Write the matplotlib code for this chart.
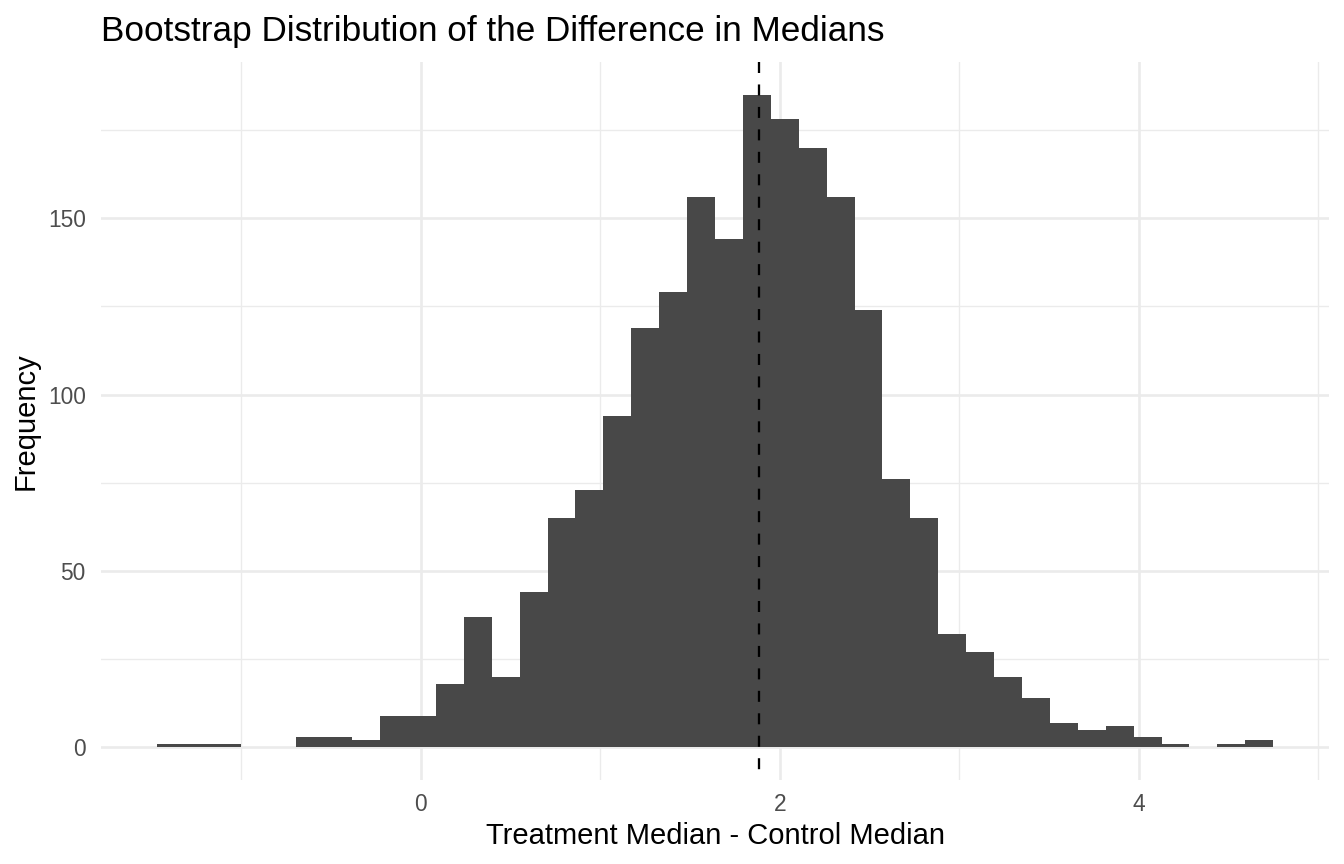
import numpy as np
import matplotlib
matplotlib.use("Agg")
import matplotlib.pyplot as plt
from matplotlib.ticker import FixedLocator

# ---- data ----
counts = [1, 1, 1, 0, 0, 3, 3, 2, 9, 9, 18, 37, 20, 44, 65, 73, 94, 119, 129, 156,
          144, 185, 178, 170, 156, 124, 76, 65, 32, 27, 20, 14, 7, 5, 6, 3, 1, 0, 1, 2]
bin_start = -1.472
bin_width = 0.15556
observed_diff = 1.886
x_major = [0, 2, 4]
x_minor = [-1, 1, 3, 5]
y_major = [0, 50, 100, 150]
y_minor = [25, 75, 125, 175]
title = "Bootstrap Distribution of the Difference in Medians"
x_label = "Treatment Median - Control Median"
y_label = "Frequency"

plt.rcParams['font.family'] = ['Liberation Sans', 'DejaVu Sans']

W, H = 1344, 864
fig = plt.figure(figsize=(W / 100, H / 100), dpi=100)
fig.patch.set_facecolor('white')
ax = fig.add_axes([101 / W, 1 - 780 / H, (1329 - 101) / W, (780 - 62) / H])

edges = bin_start + bin_width * np.arange(len(counts) + 1)
ax.bar(edges[:-1], counts, width=bin_width, align='edge', color='#484848',
       linewidth=0, zorder=2)

ax.vlines(observed_diff, 1, 0, transform=ax.get_xaxis_transform(),
          colors='black', linewidth=1.65, linestyles=(0, (4.8, 5.0)), zorder=3)

# ggplot-like 5% expansion
xr = edges[-1] - edges[0]
ax.set_xlim(edges[0] - 0.05 * xr, edges[-1] + 0.05 * xr)
ymax = max(counts)
ax.set_ylim(-0.05 * ymax, ymax * 1.05)

ax.xaxis.set_major_locator(FixedLocator(x_major))
ax.xaxis.set_minor_locator(FixedLocator(x_minor))
ax.yaxis.set_major_locator(FixedLocator(y_major))
ax.yaxis.set_minor_locator(FixedLocator(y_minor))

ax.grid(which='major', color='#EBEBEB', linewidth=1.9, zorder=0)
ax.grid(which='minor', color='#EBEBEB', linewidth=0.95, zorder=0)
ax.set_axisbelow(True)
for s in ax.spines.values():
    s.set_visible(False)

ax.tick_params(which='both', length=0)
ax.tick_params(axis='x', which='major', labelsize=16.4, labelcolor='#4D4D4D', pad=9.4)
ax.tick_params(axis='y', which='major', labelsize=16.4, labelcolor='#4D4D4D', pad=11)

ax.set_title(title, loc='left', fontsize=25.3, pad=15, color='black')
ax.set_xlabel(x_label, fontsize=21, va='baseline', color='black')
ax.xaxis.set_label_coords(0.5, (780 - 844) / (780 - 62))
ax.set_ylabel(y_label, fontsize=21, va='center', ha='center', color='black')
ax.yaxis.set_label_coords((25.8 - 101) / (1329 - 101), 0.5)

fig.savefig('out.png', dpi=100)
